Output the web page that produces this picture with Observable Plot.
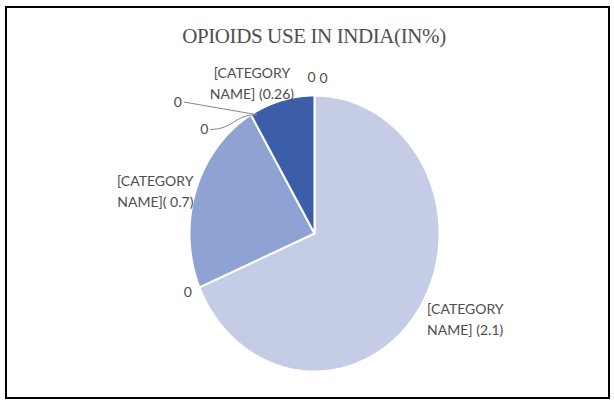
<!DOCTYPE html>
<html>
<head>
<meta charset="utf-8">
<script src="https://cdn.jsdelivr.net/npm/d3@7"></script>
<script src="https://cdn.jsdelivr.net/npm/@observablehq/plot@0.6"></script>
<style>
  html, body { margin: 0; padding: 0; background: #fff; }
  #wrap { position: relative; width: 614px; height: 401px; overflow: hidden; }
  #frame { position: absolute; left: 5px; top: 6px; width: 601px; height: 389px; border: 2px solid #000; box-sizing: content-box; }
  #title { position: absolute; left: 0; width: 628px; top: 24px; text-align: center;
           font-family: "Liberation Serif", "DejaVu Serif", serif; font-size: 21px; color: #505050; letter-spacing: -0.4px; }
  #chart { position: absolute; left: 0; top: 0; }
</style>
</head>
<body>
<div id="wrap">
  <div id="frame"></div>
  <div id="title">OPIOIDS USE IN INDIA(IN%)</div>
  <div id="chart"></div>
</div>
<script>
// Data (clockwise from 12 o'clock, as in the reference)
const categories = ["[CATEGORY NAME]", "zero1", "[CATEGORY NAME]", "zero2", "zero3", "[CATEGORY NAME]", "zero4", "zero5"];
const values     = [2.1, 0, 0.7, 0, 0, 0.26, 0, 0];
const colors     = ["#c4cce6", "#c4cce6", "#8fa2d4", "#8fa2d4", "#8fa2d4", "#3c5ea9", "#3c5ea9", "#3c5ea9"];

const slices = categories.map((c, i) => ({i, name: c, value: values[i], color: colors[i]}));
const arcs = d3.pie().sort(null).value(d => d.value)(slices);

// polar helper: angle clockwise from top, r in unit radius
const P = (a, r) => [Math.sin(a) * r, Math.cos(a) * r];

// polygons for each non-zero slice
const polys = [];
arcs.filter(a => a.data.value > 0).forEach(a => {
  const n = 90;
  polys.push({k: a.data.i, x: 0, y: 0, color: a.data.color});
  for (let j = 0; j <= n; j++) {
    const t = a.startAngle + (a.endAngle - a.startAngle) * j / n;
    const [x, y] = P(t, 1);
    polys.push({k: a.data.i, x, y, color: a.data.color});
  }
  polys.push({k: a.data.i, x: 0, y: 0, color: a.data.color});
});

const mid = a => (a.startAngle + a.endAngle) / 2;
const fmt = v => String(v);

// category labels
const bigA = arcs[0], midA = arcs[2], smallA = arcs[5];
const lab21 = P(mid(bigA), 1.1);
const lab07 = P(mid(midA), 1.02);
const lab026 = P(mid(smallA), 1.14);

// zero labels
const z1 = P(arcs[1].startAngle, 1.1);
const zEdge = P(arcs[3].startAngle, 1.0);
const z2 = P(arcs[3].startAngle - 0.33, 1.16);
const z3 = P(arcs[4].startAngle - 0.32, 1.45);
const zTop = P(arcs[6].startAngle, 1.12);

const labelFont = "Lato, 'Open Sans', sans-serif";
const gray = "#4d4d4d";
const fs = 14;

const plot = Plot.plot({
  width: 614,
  height: 401,
  margin: 0,
  x: {domain: [-1, 1], range: [314 - 125, 314 + 125], axis: null},
  y: {domain: [-1, 1], range: [233 + 138, 233 - 138], axis: null},
  style: {background: "transparent", overflow: "visible"},
  marks: [
    Plot.line(polys, {x: "x", y: "y", z: "k", fill: d => d.color, stroke: "#fff", strokeWidth: 2, strokeLinejoin: "round", curve: "linear"}),
    // leader lines for the two zero slices
    Plot.link([{x1: z2[0], y1: z2[1], x2: zEdge[0], y2: zEdge[1]}], {x1: "x1", y1: "y1", x2: "x2", y2: "y2", stroke: "#888", strokeWidth: 1, dx: 6, curve: "bump-x"}),
    Plot.link([{x1: z3[0], y1: z3[1], x2: zEdge[0], y2: zEdge[1]}], {x1: "x1", y1: "y1", x2: "x2", y2: "y2", stroke: "#888", strokeWidth: 1, dx: 6}),
    // category labels
    Plot.text([{x: lab21[0], y: lab21[1], t: categories[0].replace(" ", "\n").replace("NAME]", "NAME] (" + fmt(values[0]) + ")")}],
      {x: "x", y: "y", text: "t", textAnchor: "start", lineAnchor: "middle", lineHeight: 1.5, fontSize: fs, fontFamily: labelFont, fill: gray, dx: -2}),
    Plot.text([{x: lab07[0], y: lab07[1], t: categories[2].replace(" ", "\n").replace("NAME]", "NAME]( " + fmt(values[2]) + ")")}],
      {x: "x", y: "y", text: "t", textAnchor: "end", lineAnchor: "middle", lineHeight: 1.5, fontSize: fs, fontFamily: labelFont, fill: gray}),
    Plot.text([{x: lab026[0], y: lab026[1], t: categories[5].replace(" ", "\n").replace("NAME]", "NAME] (" + fmt(values[5]) + ")")}],
      {x: "x", y: "y", text: "t", textAnchor: "middle", lineAnchor: "middle", lineHeight: 1.5, fontSize: fs, fontFamily: labelFont, fill: gray, dx: -25}),
    // zero labels
    Plot.text([{x: z1[0], y: z1[1], t: fmt(values[1])}], {x: "x", y: "y", text: "t", fontSize: fs, fontFamily: labelFont, fill: gray}),
    Plot.text([{x: z2[0], y: z2[1], t: fmt(values[3])}], {x: "x", y: "y", text: "t", fontSize: fs, fontFamily: labelFont, fill: gray}),
    Plot.text([{x: z3[0], y: z3[1], t: fmt(values[4])}], {x: "x", y: "y", text: "t", fontSize: fs, fontFamily: labelFont, fill: gray}),
    Plot.text([{x: zTop[0], y: zTop[1], t: fmt(values[6])}], {x: "x", y: "y", text: "t", fontSize: fs, fontFamily: labelFont, fill: gray, dx: -3, dy: -1}),
    Plot.text([{x: zTop[0], y: zTop[1], t: fmt(values[7])}], {x: "x", y: "y", text: "t", fontSize: fs, fontFamily: labelFont, fill: gray, dx: 9})
  ]
});
document.getElementById("chart").appendChild(plot);
</script>
</body>
</html>
